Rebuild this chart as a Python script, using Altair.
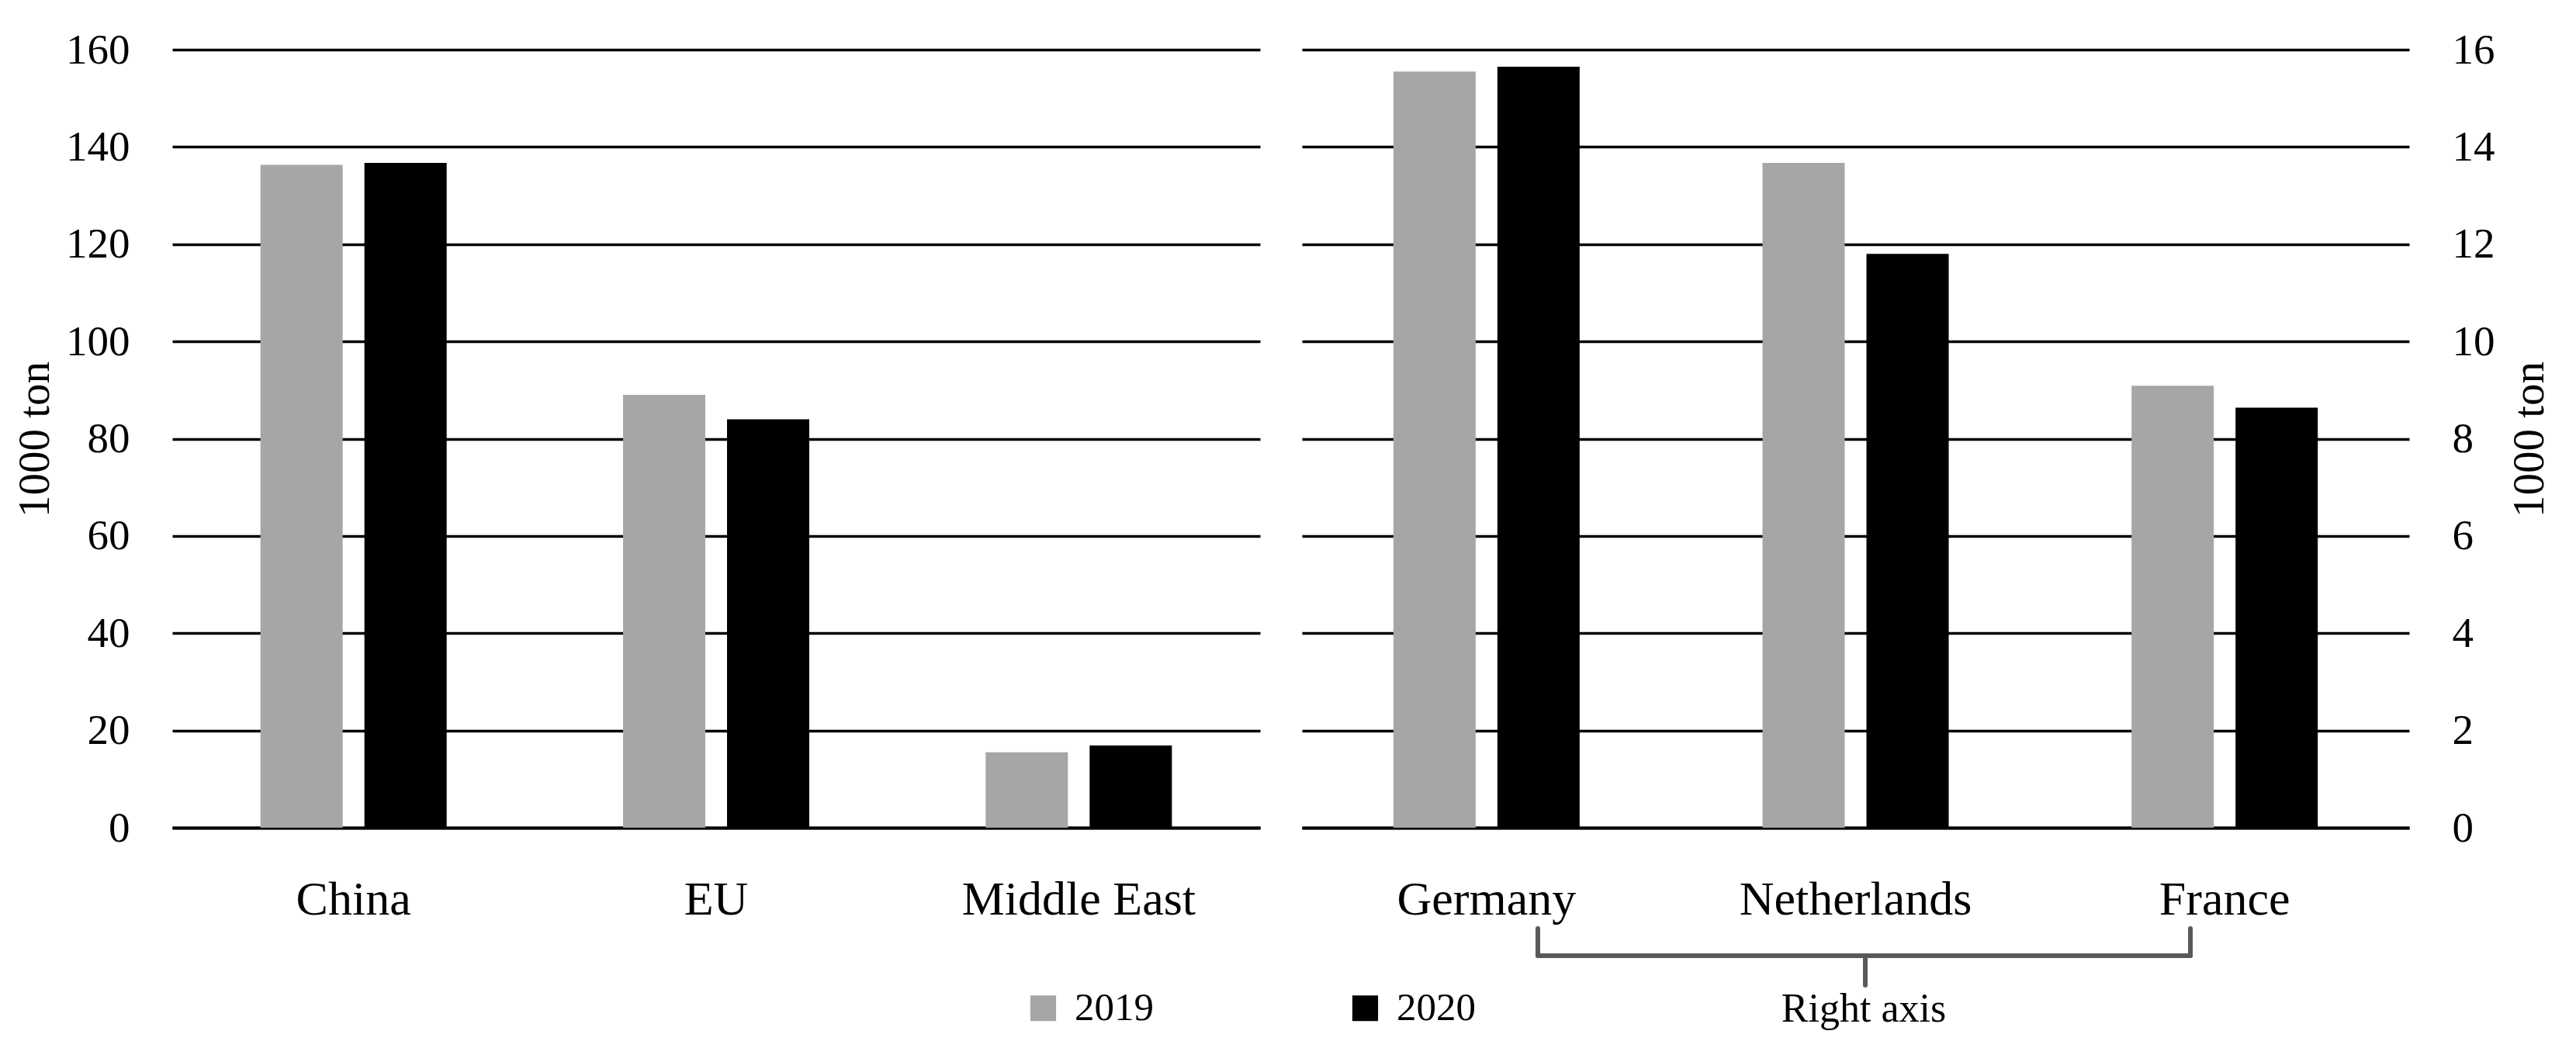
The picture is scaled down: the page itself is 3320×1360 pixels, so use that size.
import altair as alt
import pandas as pd

# ---- data ----
years = ["2019", "2020"]
left_regions = ["China", "EU", "Middle East"]
left_2019 = [136.3, 89.0, 15.5]
left_2020 = [136.7, 84.0, 16.9]
right_countries = ["Germany", "Netherlands", "France"]
right_2019 = [15.55, 13.67, 9.09]
right_2020 = [15.65, 11.80, 8.64]
left_ticks = [0, 20, 40, 60, 80, 100, 120, 140, 160]
right_ticks = [0, 2, 4, 6, 8, 10, 12, 14, 16]
axis_title = "1000 ton"
bracket_label = "Right axis"

FONT = "Liberation Serif"
GRAY = "#A6A6A6"
BLACK = "#000000"
BRACKET = "#595959"

def long_df(cats, v19, v20):
    rows = []
    for c, a, b in zip(cats, v19, v20):
        rows.append({"cat": c, "year": years[0], "value": a})
        rows.append({"cat": c, "year": years[1], "value": b})
    return pd.DataFrame(rows)

left_df = long_df(left_regions, left_2019, left_2020)
right_df = long_df(right_countries, right_2019, right_2020)

legend = alt.Legend(
    orient="none", legendX=1097, legendY=1210, direction="horizontal",
    columns=2, columnPadding=247, symbolType="square", symbolSize=1100,
    labelFontSize=51, labelFont=FONT, labelColor="black", labelOffset=15,
    title=None, padding=0, symbolStrokeWidth=0,
)
color = alt.Color("year:N", scale=alt.Scale(domain=years, range=[GRAY, BLACK]), legend=legend)

LW, RW, H = 1402, 1427, 1003

def x_enc(cats, pi):
    return alt.X(
        "cat:N", sort=cats, title=None,
        scale=alt.Scale(paddingInner=pi, paddingOuter=pi / 2),
        axis=alt.Axis(labelAngle=0, labelFont=FONT, labelFontSize=62, labelColor="black",
                      labelLimit=0, ticks=False, labelPadding=62, domain=True, domainColor="black",
                      domainWidth=4, grid=False),
    )

xoff = alt.XOffset("year:N", sort=years, scale=alt.Scale(paddingInner=0.209, paddingOuter=0))

left = alt.Chart(left_df).mark_bar().encode(
    x=x_enc(left_regions, 0.4864),
    xOffset=xoff,
    y=alt.Y("value:Q", title=axis_title,
            scale=alt.Scale(domain=[0, 160], nice=False),
            axis=alt.Axis(values=left_ticks, labelFont=FONT, labelFontSize=55, labelColor="black",
                          ticks=False, domain=False, labelPadding=55,
                          grid=True, gridColor="black", gridWidth=3.5,
                          titleFont=FONT, titleFontSize=57, titleFontWeight="normal", titleColor="black",
                          titleAngle=270, titleX=-160, titleY=502, titleAlign="center",
                          titleBaseline="alphabetic")),
    color=color,
).properties(width=LW, height=H)

bars_right = alt.Chart(right_df).mark_bar().encode(
    x=x_enc(right_countries, 0.4955),
    xOffset=xoff,
    y=alt.Y("value:Q", title=axis_title,
            scale=alt.Scale(domain=[0, 16], nice=False),
            axis=alt.Axis(orient="right", values=right_ticks, labelFont=FONT, labelFontSize=55,
                          labelColor="black", ticks=False, domain=False, labelPadding=55,
                          grid=True, gridColor="black", gridWidth=3.5,
                          titleFont=FONT, titleFontSize=57, titleFontWeight="normal", titleColor="black",
                          titleAngle=270, titleX=172, titleY=502, titleAlign="center",
                          titleBaseline="alphabetic")),
    color=color,
)

one = pd.DataFrame({"a": [0]})
base = alt.Chart(one)
rule_kw = dict(color=BRACKET, strokeWidth=6, strokeCap="round")
br_left = base.mark_rule(**rule_kw).encode(x=alt.value(304), y=alt.value(1133), y2=alt.value(1168))
br_right = base.mark_rule(**rule_kw).encode(x=alt.value(1145), y=alt.value(1133), y2=alt.value(1168))
br_h = base.mark_rule(**rule_kw).encode(x=alt.value(304), x2=alt.value(1145), y=alt.value(1168))
br_spike = base.mark_rule(**rule_kw).encode(x=alt.value(726), y=alt.value(1168), y2=alt.value(1206))
br_text = base.mark_text(font=FONT, fontSize=52, color="black", align="center",
                         baseline="alphabetic").encode(
    x=alt.value(724), y=alt.value(1253), text=alt.value(bracket_label))

right = alt.layer(bars_right, br_left, br_right, br_h, br_spike, br_text).properties(width=RW, height=H)

chart = alt.hconcat(left, right, spacing=54).properties(
    padding={"left": 8, "top": 29, "right": 5, "bottom": 5},
    background="white",
).configure_view(stroke=None)

chart.save("out.html", embed_options={"renderer": "svg", "actions": False})
